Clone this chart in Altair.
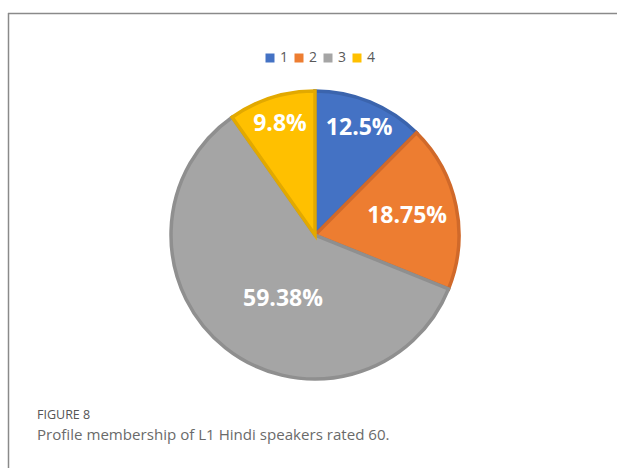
import altair as alt
import pandas as pd

categories = ["1", "2", "3", "4"]
values = [12.5, 18.75, 59.38, 9.8]
labels = ["12.5%", "18.75%", "59.38%", "9.8%"]
fill_colors = ["#4472C4", "#ED7D31", "#A5A5A5", "#FFC000"]
edge_colors = ["#3B64AD", "#D0692A", "#8F8F8F", "#E2A900"]
fig_label = "FIGURE 8"
caption = "Profile membership of L1 Hindi speakers rated 60."

df = pd.DataFrame({"cat": categories, "value": values, "label": labels,
                   "ord": list(range(len(categories)))})

CX, CY = 315, 235

base = alt.Chart(df).encode(
    theta=alt.Theta("value:Q", stack=True),
    order=alt.Order("ord:Q"),
    x=alt.value(CX),
    y=alt.value(CY),
)

arcs = base.mark_arc(outerRadius=144, strokeWidth=3.5, strokeJoin="miter").encode(
    color=alt.Color(
        "cat:N",
        scale=alt.Scale(domain=categories, range=fill_colors),
        legend=alt.Legend(
            title=None, orient="none", direction="horizontal",
            legendX=263, legendY=51,
            symbolType="square", symbolSize=81, symbolStrokeWidth=0,
            labelFontSize=14, labelColor="#595959", labelFont="Open Sans",
            columnPadding=3, labelOffset=3,
        ),
    ),
    stroke=alt.Stroke("cat:N", scale=alt.Scale(domain=categories, range=edge_colors), legend=None),
)

def label_layer(cats, radius, theta_offset=0.0):
    test = " || ".join(f"datum.cat == '{c}'" for c in cats)
    return base.mark_text(
        radius=radius, thetaOffset=theta_offset, fontSize=23, fontWeight="bold",
        font="Open Sans", color="white", align="center", baseline="middle",
    ).encode(text=alt.condition(test, "label:N", alt.value("")))

lab_a = label_layer(["1", "4"], 116)
lab_b = label_layer(["2"], 94)
lab_c = label_layer(["3"], 72, -0.21)

one = pd.DataFrame({"t": [fig_label]})
two = pd.DataFrame({"t": [caption]})
cap1 = alt.Chart(one).mark_text(align="left", baseline="alphabetic", fontSize=12.5,
                                font="Open Sans", color="#555555").encode(
    x=alt.value(37), y=alt.value(419), text="t:N")
cap2 = alt.Chart(two).mark_text(align="left", baseline="alphabetic", fontSize=15.1,
                                font="Open Sans", color="#6a6a6a").encode(
    x=alt.value(37), y=alt.value(440), text="t:N")

frame_top = alt.Chart(one).mark_rule(color="#8a8a8a", strokeWidth=1.5).encode(
    x=alt.value(8), x2=alt.value(617), y=alt.value(13.5))
frame_left = alt.Chart(one).mark_rule(color="#8a8a8a", strokeWidth=1.5).encode(
    x=alt.value(8.5), y=alt.value(13), y2=alt.value(468))

chart = alt.layer(arcs, lab_a, lab_b, lab_c, cap1, cap2, frame_top, frame_left).properties(
    width=617, height=468, padding=0, autosize=alt.AutoSizeParams(type="none"),
    background="white",
).configure_view(stroke=None)

chart.save("out.html", embed_options={"renderer": "svg", "actions": False})
